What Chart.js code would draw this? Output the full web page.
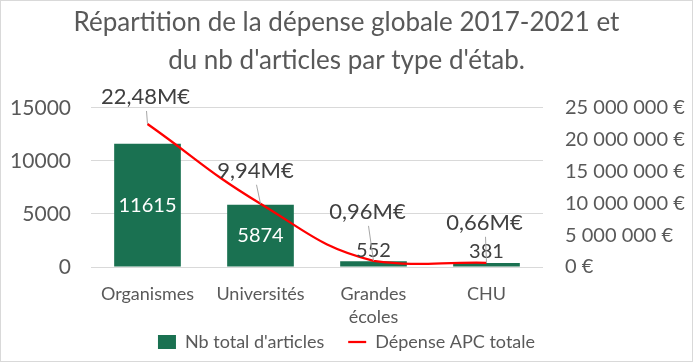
<!DOCTYPE html>
<html><head><meta charset="utf-8">
<script src="https://cdn.jsdelivr.net/npm/chart.js@4"></script>
<style>html,body{margin:0;padding:0;background:#fff}#wrap{width:693px;height:362px;position:relative}</style>
</head><body><div id="wrap"><canvas id="c" width="693" height="362"></canvas></div>
<script>
const categories = ['Organismes', 'Universités', ['Grandes', 'écoles'], 'CHU'];
const articles = [11615, 5874, 552, 381];
const depense = [22480000, 9940000, 960000, 660000];
const depenseLabels = ['22,48M€', '9,94M€', '0,96M€', '0,66M€'];
const seriesNames = ["Nb total d'articles", 'Dépense APC totale'];
const titleLines = ['Répartition de la dépense globale 2017-2021 et', "du nb d'articles par type d'étab."];
const leftAxis = {min: 0, max: 15000, step: 5000};
const rightAxis = {min: 0, max: 25000000, step: 5000000};

// label placement offsets (px, relative to the point)
const lineLabelOffsets = [[-2, -27], [-5, -33], [-6, -49], [-2, -40]];

function fmtEuro(v) {
  return String(v).replace(/\B(?=(\d{3})+(?!\d))/g, ' ') + ' €';
}

const labelPlugin = {
  id: 'valueLabels',
  afterLayout(chart) {
    // let the wrapped category label overflow into the legend band (no clipping)
    chart.scales.x.bottom = chart.height;
  },
  afterDatasetsDraw(chart) {
    const ctx = chart.ctx;
    const barMeta = chart.getDatasetMeta(0);
    const lineMeta = chart.getDatasetMeta(1);
    ctx.save();
    ctx.textAlign = 'center';
    ctx.textBaseline = 'middle';
    ctx.font = '20px Lato';
    barMeta.data.forEach((bar, i) => {
      const h = bar.base - bar.y;
      if (h > 40) {
        ctx.fillStyle = '#ffffff';
        ctx.fillText(String(articles[i]), bar.x, (bar.y + bar.base) / 2);
      } else {
        ctx.fillStyle = '#404040';
        ctx.fillText(String(articles[i]), bar.x, bar.y - 11);
      }
    });
    ctx.font = '22px Lato';
    lineMeta.data.forEach((pt, i) => {
      const [dx, dy] = lineLabelOffsets[i];
      const lx = pt.x + dx, ly = pt.y + dy;
      ctx.strokeStyle = '#a6a6a6';
      ctx.lineWidth = 1;
      ctx.beginPath();
      ctx.moveTo(lx + 1, ly + 14);
      ctx.lineTo(pt.x, pt.y);
      ctx.stroke();
      ctx.fillStyle = '#404040';
      ctx.fillText(depenseLabels[i], lx, ly);
    });
    ctx.restore();
  }
};

const framePlugin = {
  id: 'frame',
  beforeDraw(chart) {
    const ctx = chart.ctx;
    ctx.save();
    ctx.fillStyle = '#ffffff';
    ctx.fillRect(0, 0, chart.width, chart.height);
    ctx.restore();
  },
  afterDraw(chart) {
    const ctx = chart.ctx;
    ctx.save();
    ctx.strokeStyle = '#d9d9d9';
    ctx.lineWidth = 1;
    ctx.strokeRect(0.5, 0.5, chart.width - 1, chart.height - 1);
    ctx.restore();
  }
};

function draw() {
  Chart.defaults.font.family = 'Lato';
  Chart.defaults.color = '#595959';
  new Chart(document.getElementById('c'), {
    data: {
      labels: categories,
      datasets: [
        {
          type: 'bar',
          label: seriesNames[0],
          data: articles,
          backgroundColor: '#1a7151',
          borderWidth: 0,
          yAxisID: 'y',
          order: 1,
          categoryPercentage: 1,
          barPercentage: 0.59,
          pointStyle: 'rect'
        },
        {
          type: 'line',
          label: seriesNames[1],
          data: depense,
          borderColor: '#ff0000',
          backgroundColor: '#ff0000',
          borderWidth: 2.25,
          pointRadius: 0,
          tension: 0.45,
          fill: false,
          yAxisID: 'y1',
          order: 0,
          pointStyle: 'line'
        }
      ]
    },
    options: {
      responsive: false,
      animation: false,
      layout: {padding: {top: 0, bottom: 1, left: 0, right: 0}},
      plugins: {
        title: {
          display: true,
          text: titleLines,
          color: '#595959',
          font: {size: 26, weight: 'normal', lineHeight: 1.48},
          padding: {top: 3, bottom: 28}
        },
        legend: {
          display: true,
          position: 'bottom',
          labels: {
            usePointStyle: true,
            pointStyleWidth: 18,
            boxHeight: 14,
            padding: 24,
            color: '#595959',
            font: {size: 18},
            sort: (a, b) => a.datasetIndex - b.datasetIndex
          }
        },
        tooltip: {enabled: false}
      },
      scales: {
        x: {
          grid: {display: false},
          border: {display: false},
          ticks: {color: '#595959', font: {size: 18, lineHeight: 1.25}, padding: 8, maxRotation: 0, autoSkip: false},
          afterFit(scale) { scale.height = 42; }
        },
        y: {
          position: 'left',
          min: leftAxis.min, max: leftAxis.max,
          grid: {color: '#d9d9d9', drawTicks: false, lineWidth: 1},
          border: {display: false},
          ticks: {stepSize: leftAxis.step, color: '#595959', font: {size: 21}, padding: 20, callback: v => String(v)},
          afterFit(scale) { scale.width = 91; }
        },
        y1: {
          position: 'right',
          min: rightAxis.min, max: rightAxis.max,
          grid: {display: false, drawTicks: false},
          border: {display: false},
          ticks: {stepSize: rightAxis.step, color: '#595959', font: {size: 20}, padding: 22, callback: v => fmtEuro(v)},
          afterFit(scale) { scale.width = 150; }
        }
      }
    },
    plugins: [labelPlugin, framePlugin]
  });
}

if (document.fonts && document.fonts.load) {
  Promise.all([document.fonts.load('20px Lato'), document.fonts.load('bold 20px Lato')]).then(draw, draw);
} else { draw(); }
</script>
</body></html>
